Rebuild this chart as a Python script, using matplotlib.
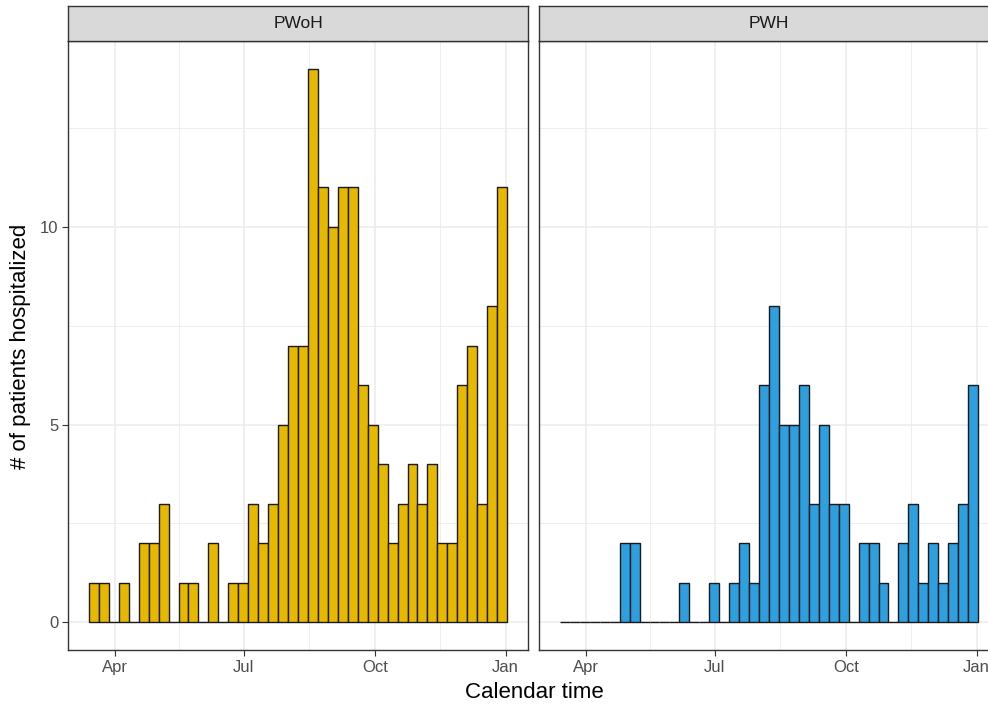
import matplotlib
matplotlib.use("Agg")
import matplotlib.pyplot as plt
import matplotlib.dates as mdates
import numpy as np
from datetime import date, timedelta

plt.rcParams['font.family'] = ['Liberation Sans', 'DejaVu Sans']

# Weekly bins starting 2020-03-14
bin_start = date(2020, 3, 14)
n_bins = 42
bin_days = 7

pwoh_counts = [1, 1, 0, 1, 0, 2, 2, 3, 0, 1, 1, 0, 2, 0, 1, 1, 3, 2, 3, 5, 7,
               7, 14, 11, 10, 11, 11, 6, 5, 4, 2, 3, 4, 3, 4, 2, 2, 6, 7, 3, 8, 11]
pwh_counts = [0, 0, 0, 0, 0, 0, 2, 2, 0, 0, 0, 0, 1, 0, 0, 1, 0, 1, 2, 1, 6,
              8, 5, 5, 6, 3, 5, 3, 3, 0, 2, 2, 1, 0, 2, 3, 1, 2, 1, 2, 3, 6]
panels = ["PWoH", "PWH"]
colors = ["#E6B800", "#2E9FDF"]
tick_labels = ["Apr", "Jul", "Oct", "Jan"]
tick_dates = [date(2020, 4, 1), date(2020, 7, 1), date(2020, 10, 1), date(2021, 1, 1)]
minor_dates = [date(2020, 5, 16), date(2020, 8, 16), date(2020, 11, 16)]

W, H = 988, 708
fig = plt.figure(figsize=(W / 100, H / 100), dpi=100)

edges = [mdates.date2num(bin_start + timedelta(days=bin_days * i)) for i in range(n_bins + 1)]
x0, x1 = edges[0], edges[-1]
pad = 0.05 * (x1 - x0)
ymax = max(max(pwoh_counts), max(pwh_counts))

panel_lefts = [68, 539]
panel_w = 460
panel_top, panel_bot = 41, 650
strip_top = 6

grid_c = "#EBEBEB"
for k, (name, counts, col) in enumerate(zip(panels, [pwoh_counts, pwh_counts], colors)):
    l = panel_lefts[k]
    ax = fig.add_axes([l / W, 1 - panel_bot / H, panel_w / W, (panel_bot - panel_top) / H])
    ax.set_xlim(x0 - pad, x1 + pad)
    ax.set_ylim(-0.05 * ymax, ymax * 1.05)
    ax.set_axisbelow(True)
    for y in [2.5, 7.5, 12.5]:
        ax.axhline(y, color=grid_c, lw=0.6, zorder=0)
    for y in [0, 5, 10]:
        ax.axhline(y, color=grid_c, lw=1.1, zorder=0)
    for d in minor_dates:
        ax.axvline(mdates.date2num(d), color=grid_c, lw=0.6, zorder=0)
    for d in tick_dates:
        ax.axvline(mdates.date2num(d), color=grid_c, lw=1.1, zorder=0)
    lefts = np.array(edges[:-1])
    ax.bar(lefts, counts, width=bin_days, align='edge', color=col,
           edgecolor="#1a1a1a", linewidth=1.0, zorder=2)
    ax.set_xticks([mdates.date2num(d) for d in tick_dates])
    ax.set_xticklabels(tick_labels)
    ax.set_yticks([0, 5, 10])
    ax.tick_params(axis='both', colors="#333333", labelcolor="#4D4D4D",
                   labelsize=12, width=0.8, length=4, pad=3)
    if k == 0:
        ax.set_yticklabels(["0", "5", "10"])
    else:
        ax.set_yticklabels([])
        ax.tick_params(axis='y', length=0)
    for s in ax.spines.values():
        s.set_color("#333333")
        s.set_linewidth(1.0)
    # strip
    sax = fig.add_axes([l / W, 1 - panel_top / H, panel_w / W, (panel_top - strip_top) / H])
    sax.set_facecolor("#D9D9D9")
    sax.set_xticks([])
    sax.set_yticks([])
    for s in sax.spines.values():
        s.set_color("#333333")
        s.set_linewidth(1.0)
    sax.text(0.5, 0.5, name, transform=sax.transAxes, ha='center', va='center',
             fontsize=12.5, color="#1A1A1A")

fig.text(534 / W, 1 - 693 / H, "Calendar time", ha='center', va='center', fontsize=16, color="black")
fig.text(21 / W, 1 - 346 / H, "# of patients hospitalized", ha='center', va='center',
         rotation=90, fontsize=16, color="black")

fig.savefig("out.png", dpi=100)
